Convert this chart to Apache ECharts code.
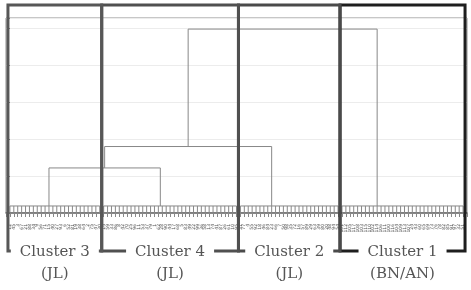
<!DOCTYPE html>
<html>
<head>
<meta charset="utf-8">
<script src="https://cdn.jsdelivr.net/npm/echarts@6/dist/echarts.min.js"></script>
<style>
  html, body { margin: 0; padding: 0; background: #fff; }
  #main { width: 471px; height: 290px; }
</style>
</head>
<body>
<div id="main"></div>
<script>
// leaf case ids, left to right, one array per cluster
const cluster3Ids = [12, 45, 3, 67, 21, 88, 34, 9, 56, 71, 15, 40, 27, 93, 6, 52, 81, 19, 38, 64, 2, 75, 47, 30];
const cluster4Ids = [14, 59, 33, 86, 8, 42, 70, 25, 96, 11, 53, 37, 79, 1, 62, 28, 90, 44, 17, 68, 5, 83, 49, 22, 99, 36, 58, 13, 74, 41, 87, 26, 61, 10, 95];
const cluster2Ids = [31, 77, 4, 55, 92, 18, 46, 84, 23, 66, 7, 50, 98, 35, 72, 16, 57, 89, 29, 63, 39, 80, 20, 48, 94, 54];
const cluster1Ids = [101, 112, 105, 117, 108, 103, 115, 110, 102, 114, 106, 111, 100, 116, 104, 109, 113, 107, 24, 43, 60, 65, 69, 73, 76, 78, 82, 85, 91, 97, 32, 51];

const clusterNames = ['Cluster 3', 'Cluster 4', 'Cluster 2', 'Cluster 1'];
const clusterGroups = ['(JL)', '(JL)', '(JL)', '(BN/AN)'];

// dendrogram: height where leaves of each cluster join, leaf index of each cluster stem
const leafJoin = [0.95, 0.95, 0.95, 0.95];
const clusterStem = [10, 38.5, 67, 94];
// successive merge heights (3+4, then +2, then +1)
const mergeHeights = [6.1, 9.0, 24.9];

// ---- build segments
const clusters = [cluster3Ids, cluster4Ids, cluster2Ids, cluster1Ids];
let start = 0;
const ranges = [];
clusters.forEach(ids => {
    ranges.push([start, start + ids.length - 1]);
    start += ids.length;
});
const leafLabels = [].concat(...clusters);
const N = leafLabels.length;

const segs = [];
ranges.forEach((r, k) => {
    for (let i = r[0]; i <= r[1]; i++) segs.push([[i, 0], [i, leafJoin[k]]]);
    segs.push([[r[0], leafJoin[k]], [r[1], leafJoin[k]]]);
});
let curX = clusterStem[0], curY = leafJoin[0];
for (let k = 1; k < clusters.length; k++) {
    const h = mergeHeights[k - 1];
    const bx = clusterStem[k], by = leafJoin[k];
    segs.push([[curX, curY], [curX, h], [bx, h], [bx, by]]);
    curX = (curX + bx) / 2;
    curY = h;
}

const chart = echarts.init(document.getElementById('main'), null, { renderer: 'canvas' });

chart.setOption({
    animation: false,
    grid: {
        left: 6,
        right: 4,
        top: 18,
        bottom: 77,
        show: true,
        borderColor: '#8f8f8f',
        borderWidth: 1
    },
    xAxis: {
        type: 'value',
        min: -1,
        max: N,
        interval: 1,
        splitLine: { show: false },
        axisLine: { lineStyle: { color: '#666', width: 1.5 } },
        axisTick: { show: true, length: 4, lineStyle: { color: '#888' } },
        axisLabel: {
            rotate: 90,
            fontSize: 4.5,
            lineHeight: 4,
            margin: 11,
            color: '#555',
            fontFamily: 'DejaVu Sans',
            formatter: v => (leafLabels[v] !== undefined ? String(leafLabels[v]) : '')
        }
    },
    yAxis: {
        type: 'value',
        min: 0,
        max: 26.4,
        interval: 5,
        axisLine: { show: false },
        axisTick: { show: true, length: 3, lineStyle: { color: '#777' } },
        axisLabel: { show: false },
        splitLine: { lineStyle: { color: '#ececec' } }
    },
    series: [{
        type: 'lines',
        coordinateSystem: 'cartesian2d',
        polyline: true,
        silent: true,
        lineStyle: { color: '#888', width: 1, opacity: 1 },
        data: segs.map(c => ({ coords: c }))
    }]
});

// cluster boxes, edges at boundaries between leaf groups
const ctx = document.createElement('canvas').getContext('2d');
ctx.font = '15px "DejaVu Serif"';
const boxColors = ['#575757', '#505050', '#4a4a4a', '#1e1e1e'];
const yTop = 5, yBot = 251;
const graphics = [];
const order = [3, 2, 1, 0];
order.forEach(k => {
    const L = chart.convertToPixel({ gridIndex: 0 }, [ranges[k][0] - 0.5, 0])[0];
    const R = chart.convertToPixel({ gridIndex: 0 }, [ranges[k][1] + 0.5, 0])[0];
    const cx = (L + R) / 2;
    const w = ctx.measureText(clusterNames[k]).width;
    graphics.push({
        type: 'polyline',
        shape: {
            points: [[cx - w / 2 - 9, yBot], [L, yBot], [L, yTop], [R, yTop], [R, yBot], [cx + w / 2 + 9, yBot]]
        },
        style: { stroke: boxColors[k], lineWidth: 3, fill: null },
        z: 100
    });
    graphics.push({
        type: 'text',
        x: cx, y: 252,
        style: {
            text: clusterNames[k], fill: '#555', font: '15px "DejaVu Serif"',
            textAlign: 'center', textVerticalAlign: 'middle'
        },
        z: 100
    });
    graphics.push({
        type: 'text',
        x: cx, y: 274,
        style: {
            text: clusterGroups[k], fill: '#555', font: '15px "DejaVu Serif"',
            textAlign: 'center', textVerticalAlign: 'middle'
        },
        z: 100
    });
});
chart.setOption({ graphic: graphics });
</script>
</body>
</html>
